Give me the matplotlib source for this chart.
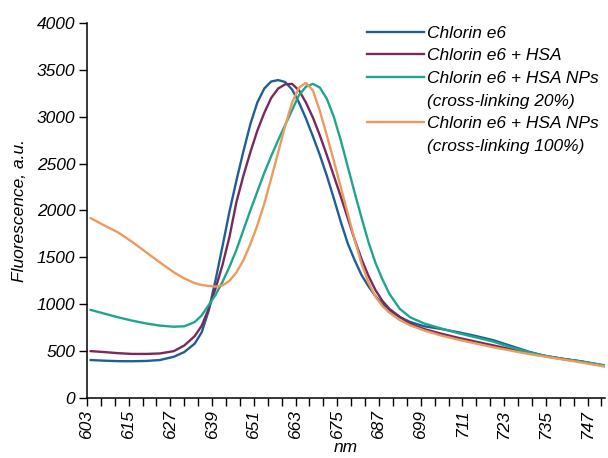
import numpy as np
import matplotlib
matplotlib.use('Agg')
import matplotlib.pyplot as plt
from matplotlib.lines import Line2D
from matplotlib.ticker import MultipleLocator

plt.rcParams['font.family'] = ['Liberation Sans', 'DejaVu Sans']
plt.rcParams['font.style'] = 'italic'

# wavelength, nm
wl = [604, 608, 612, 616, 620, 624, 628, 631, 634, 636, 638, 640, 642, 644, 646,
      648, 650, 652, 654, 656, 658, 660, 662, 664, 666, 668, 670, 672, 674, 676,
      678, 680, 682, 684, 686, 688, 690, 693, 696, 700, 705, 710, 715, 720, 725,
      730, 735, 740, 745, 752]

ce6 = [405, 398, 393, 392, 395, 405, 440, 490, 580, 700, 930, 1260, 1620, 1990, 2320,
       2630, 2920, 3150, 3300, 3375, 3390, 3370, 3290, 3150, 2980, 2790, 2590, 2370, 2130, 1880,
       1650, 1470, 1310, 1190, 1085, 1005, 935, 862, 810, 765, 735, 700, 660, 615, 555,
       495, 445, 415, 392, 345]

ce6_hsa = [500, 490, 478, 470, 470, 475, 500, 560, 660, 770, 950, 1170, 1420, 1720, 2090,
           2370, 2620, 2850, 3040, 3200, 3300, 3345, 3350, 3280, 3150, 2990, 2800, 2590, 2370, 2150,
           1920, 1690, 1480, 1300, 1150, 1035, 950, 865, 790, 735, 685, 640, 600, 560, 520,
           480, 448, 418, 390, 340]

ce6_np20 = [940, 900, 860, 825, 795, 772, 760, 765, 810, 880, 990, 1100, 1240, 1400, 1580,
            1790, 2000, 2200, 2400, 2580, 2750, 2910, 3070, 3230, 3320, 3350, 3310, 3190, 3000, 2750,
            2470, 2190, 1920, 1660, 1440, 1265, 1110, 950, 860, 795, 740, 690, 645, 600, 540,
            490, 448, 415, 390, 348]

ce6_np100 = [1920, 1840, 1765, 1665, 1555, 1445, 1340, 1275, 1225, 1205, 1195, 1188, 1200, 1250, 1340,
             1470, 1640, 1840, 2070, 2340, 2620, 2900, 3150, 3310, 3360, 3280, 3060, 2800, 2530, 2250,
             1970, 1690, 1430, 1230, 1080, 980, 910, 830, 775, 720, 665, 620, 580, 540, 505,
             470, 440, 410, 380, 335]

series = [ce6, ce6_hsa, ce6_np20, ce6_np100]
colors = ['#1f5f96', '#7a2a5a', '#1ea68c', '#ec9a5e']
legend_rows = [('Chlorin e6', 0), ('Chlorin e6 + HSA', 1),
               ('Chlorin e6 + HSA NPs', 2), ('(cross-linking 20%)', None),
               ('Chlorin e6 + HSA NPs', 3), ('(cross-linking 100%)', None)]

fig = plt.figure(figsize=(6.08, 4.58), dpi=100)
ax = fig.add_axes([0.143, 0.131, 0.852, 0.819])

for y, c in zip(series, colors):
    ax.plot(wl, y, color=c, lw=1.7, solid_capstyle='round', solid_joinstyle='round')

ax.set_xlim(603, 752)
ax.set_ylim(0, 4000)
ax.xaxis.set_major_locator(MultipleLocator(12, offset=3))
ax.xaxis.set_minor_locator(MultipleLocator(4, offset=3))
ax.yaxis.set_major_locator(MultipleLocator(500))
ax.tick_params(axis='both', which='both', direction='out', length=5.5, width=1.0,
               labelsize=12.5, pad=3)
ax.tick_params(axis='x', labelrotation=90)
for s in ['top', 'right']:
    ax.spines[s].set_visible(False)
for s in ['left', 'bottom']:
    ax.spines[s].set_linewidth(1.1)

ax.set_xlabel('nm', fontsize=12.5, labelpad=1)
ax.set_ylabel('Fluorescence, a.u.', fontsize=12.5, labelpad=7)

handles = []
labels = []
for text, idx in legend_rows:
    if idx is None:
        handles.append(Line2D([], [], color='none'))
    else:
        handles.append(Line2D([], [], color=colors[idx], lw=1.7))
    labels.append(text)
ax.legend(handles, labels, loc='upper left', bbox_to_anchor=(0.54, 0.993),
          frameon=False, fontsize=12.5, handlelength=3.3, handletextpad=0.15,
          labelspacing=0.43, borderpad=0, borderaxespad=0)

fig.savefig('out.png', dpi=100)
